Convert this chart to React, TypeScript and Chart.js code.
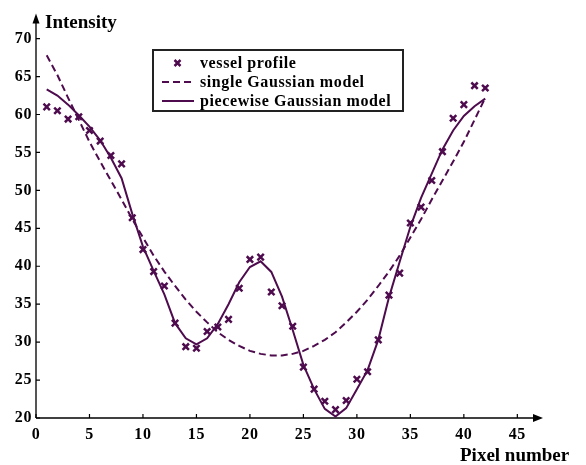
import React, { useEffect, useRef } from "react";
import { Chart, registerables } from "chart.js";

Chart.register(...registerables);

const pixels = [1,2,3,4,5,6,7,8,9,10,11,12,13,14,15,16,17,18,19,20,21,22,23,24,25,26,27,28,29,30,31,32,33,34,35,36,37,38,39,40,41,42];
const vesselProfile = [61.0,60.5,59.4,59.7,57.9,56.5,54.6,53.5,46.4,42.2,39.3,37.4,32.5,29.4,29.2,31.4,32.0,33.0,37.1,40.9,41.2,36.6,34.8,32.1,26.7,23.8,22.2,21.1,22.3,25.1,26.1,30.3,36.2,39.1,45.7,47.8,51.3,55.1,59.5,61.3,63.8,63.5];
const singleGaussian = [67.8,65.2,62.2,59.3,56.4,53.8,51.3,48.8,46.2,43.8,41.4,39.3,37.4,35.6,34.0,32.6,31.3,30.3,29.5,28.85,28.45,28.25,28.25,28.45,28.85,29.5,30.3,31.3,32.6,34.0,35.6,37.4,39.3,41.4,43.8,46.2,48.8,51.3,53.8,56.4,59.3,62.2];
const piecewiseGaussian = [63.3,62.5,61.3,59.9,58.4,56.6,54.3,51.6,46.9,42.6,39.4,36.3,32.5,30.5,29.7,30.5,32.4,35.0,37.9,39.9,40.65,39.25,36.0,31.6,27.0,23.8,21.2,20.2,21.3,23.8,26.3,30.3,35.9,40.6,45.2,49.0,52.2,55.4,57.9,59.8,61.1,62.1];
const xTicks = [0,5,10,15,20,25,30,35,40,45];
const yTicks = [20,25,30,35,40,45,50,55,60,65,70];
const seriesLabels = ["vessel profile", "single Gaussian model", "piecewise Gaussian model"];
const yTitle = "Intensity";
const xTitle = "Pixel number";

const PURPLE = "#4e0c4e";
const FONT = "'Liberation Serif', 'Times New Roman', serif";

const toPts = (ys: number[]) => pixels.map((x, i) => ({ x, y: ys[i] }));

const decorPlugin = {
  id: "decor",
  beforeDraw(chart: any) {
    chart.ctx.letterSpacing = "0.6px";
  },
  beforeDatasetsDraw(chart: any) {
    const { ctx, chartArea } = chart;
    const xs = chart.scales.x;
    const ys = chart.scales.y;
    const x0 = xs.getPixelForValue(0);
    const y0 = ys.getPixelForValue(20);
    ctx.save();
    // y axis
    ctx.strokeStyle = "#555";
    ctx.lineWidth = 2;
    ctx.beginPath();
    ctx.moveTo(x0, y0);
    ctx.lineTo(x0, chartArea.top + 8);
    ctx.stroke();
    ctx.fillStyle = "#000";
    ctx.beginPath();
    ctx.moveTo(x0, chartArea.top);
    ctx.lineTo(x0 - 3.5, chartArea.top + 10);
    ctx.lineTo(x0 + 3.5, chartArea.top + 10);
    ctx.closePath();
    ctx.fill();
    // x axis
    ctx.strokeStyle = "#000";
    ctx.lineWidth = 1.5;
    ctx.beginPath();
    ctx.moveTo(x0, y0);
    ctx.lineTo(chartArea.right - 8, y0);
    ctx.stroke();
    ctx.beginPath();
    ctx.moveTo(chartArea.right, y0);
    ctx.lineTo(chartArea.right - 10, y0 - 4);
    ctx.lineTo(chartArea.right - 10, y0 + 4);
    ctx.closePath();
    ctx.fill();
    // ticks
    ctx.lineWidth = 1.2;
    ctx.beginPath();
    xTicks.forEach((v) => {
      const px = xs.getPixelForValue(v);
      ctx.moveTo(px, y0);
      ctx.lineTo(px, y0 - 4);
    });
    yTicks.forEach((v) => {
      const py = ys.getPixelForValue(v);
      ctx.moveTo(x0, py);
      ctx.lineTo(x0 + 4, py);
    });
    ctx.stroke();
    ctx.restore();
  },
  afterDraw(chart: any) {
    const { ctx } = chart;
    ctx.save();
    ctx.letterSpacing = "0px";
    ctx.fillStyle = "#000";
    ctx.textBaseline = "alphabetic";
    ctx.textAlign = "left";
    ctx.font = `bold 19px ${FONT}`;
    ctx.fillText(yTitle, 45, 28);
    ctx.fillText(xTitle, 460, 461);

    // legend
    ctx.letterSpacing = "0.6px";
    const bx = 153, by = 50, bw = 250, bh = 61;
    ctx.fillStyle = "#fff";
    ctx.fillRect(bx, by, bw, bh);
    ctx.strokeStyle = "#222";
    ctx.lineWidth = 2;
    ctx.strokeRect(bx, by, bw, bh);
    const rows = [63, 82, 101];
    ctx.font = `bold 16px ${FONT}`;
    ctx.fillStyle = "#000";
    ctx.textBaseline = "middle";
    seriesLabels.forEach((t, i) => ctx.fillText(t, 200, rows[i] + 1));
    ctx.strokeStyle = PURPLE;
    ctx.lineWidth = 2.5;
    // marker
    const mx = 177.5, my = rows[0], r = 3;
    ctx.beginPath();
    ctx.moveTo(mx - r, my - r); ctx.lineTo(mx + r, my + r);
    ctx.moveTo(mx + r, my - r); ctx.lineTo(mx - r, my + r);
    ctx.stroke();
    ctx.lineWidth = 2;
    ctx.setLineDash([7, 4]);
    ctx.beginPath();
    ctx.moveTo(162, rows[1]); ctx.lineTo(194, rows[1]);
    ctx.stroke();
    ctx.setLineDash([]);
    ctx.beginPath();
    ctx.moveTo(162, rows[2]); ctx.lineTo(194, rows[2]);
    ctx.stroke();
    ctx.restore();
  },
};

export default function App() {
  const ref = useRef<HTMLCanvasElement | null>(null);
  useEffect(() => {
    if (!ref.current) return;
    const chart = new Chart(ref.current, {
      type: "scatter",
      data: {
        datasets: [
          {
            label: seriesLabels[0],
            data: toPts(vesselProfile),
            showLine: false,
            pointStyle: "crossRot",
            pointRadius: 4.5,
            pointBorderWidth: 2.5,
            borderColor: PURPLE,
            backgroundColor: PURPLE,
          },
          {
            label: seriesLabels[1],
            data: toPts(singleGaussian),
            showLine: true,
            pointRadius: 0,
            borderColor: PURPLE,
            borderWidth: 2,
            borderDash: [7, 4],
            tension: 0,
          },
          {
            label: seriesLabels[2],
            data: toPts(piecewiseGaussian),
            showLine: true,
            pointRadius: 0,
            borderColor: PURPLE,
            borderWidth: 2,
            tension: 0,
          },
        ],
      },
      options: {
        responsive: false,
        animation: false,
        layout: { padding: { top: 13, right: 43, left: 0, bottom: 0 } },
        plugins: { legend: { display: false }, tooltip: { enabled: false } },
        scales: {
          x: {
            type: "linear",
            min: 0,
            max: 47.4,
            grid: { display: false, drawTicks: false },
            border: { display: false },
            ticks: { color: "#000", font: { family: FONT, size: 16, weight: "bold" }, padding: 7, maxRotation: 0 },
            afterBuildTicks: (s: any) => { s.ticks = xTicks.map((v) => ({ value: v })); },
            afterFit: (s: any) => { s.height = 47; },
          },
          y: {
            type: "linear",
            min: 20,
            max: 73.3,
            grid: { display: false, drawTicks: false },
            border: { display: false },
            ticks: { color: "#000", font: { family: FONT, size: 16, weight: "bold" }, padding: 4 },
            afterBuildTicks: (s: any) => { s.ticks = yTicks.map((v) => ({ value: v })); },
            afterFit: (s: any) => { s.width = 36; },
          },
        },
      },
      plugins: [decorPlugin],
    } as any);
    return () => chart.destroy();
  }, []);
  return (
    <div style={{ position: "fixed", left: 0, top: 0, width: 586, height: 465, background: "#fff" }}>
      <canvas ref={ref} width={586} height={465} style={{ width: 586, height: 465 }} />
    </div>
  );
}
